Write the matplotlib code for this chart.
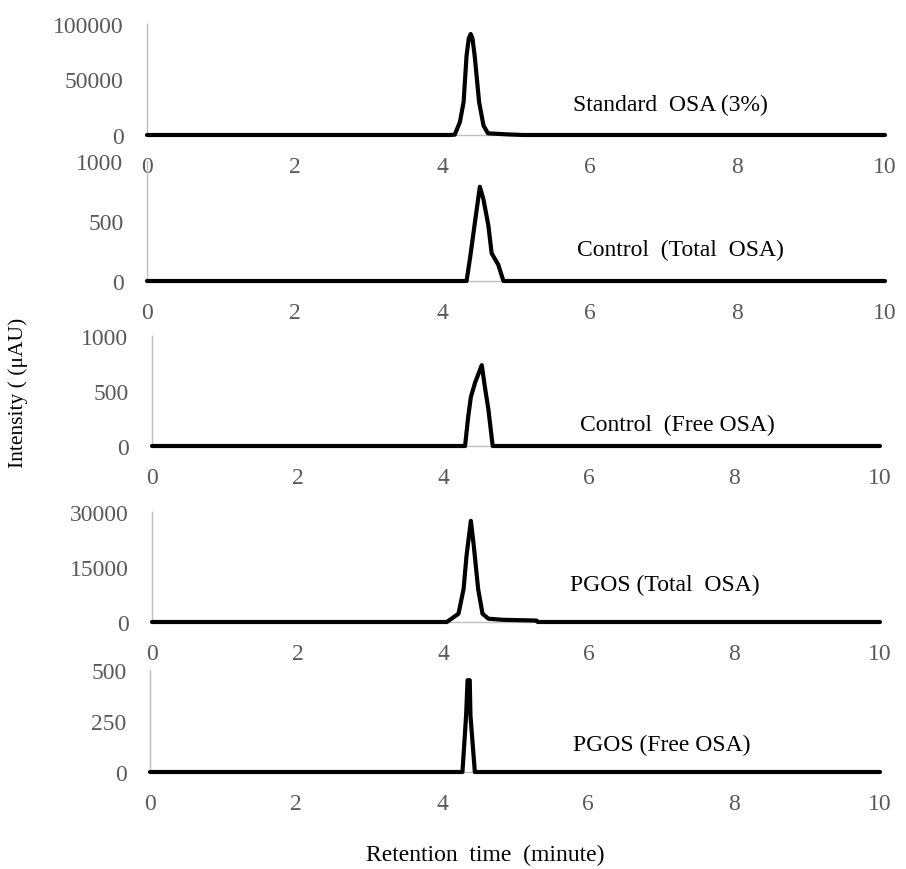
import matplotlib
matplotlib.use("Agg")
import matplotlib.pyplot as plt

plt.rcParams['font.family'] = ['Liberation Serif', 'DejaVu Serif']

# ---- data (retention time in minutes, intensity in µAU) ----
t_std = [0, 4.10, 4.17, 4.24, 4.29, 4.33, 4.36, 4.386, 4.41, 4.44, 4.50, 4.56, 4.62, 4.90, 5.10, 10]
i_std = [0, 0, 300, 11700, 29700, 71400, 87000, 91000, 87000, 71400, 29700, 8400, 1500, 500, 0, 0]

t_ctl_tot = [0, 4.33, 4.377, 4.445, 4.51, 4.557, 4.625, 4.67, 4.76, 4.83, 10]
i_ctl_tot = [0, 0, 190, 496, 785, 686, 465, 231, 135, 0, 0]

t_ctl_free = [0, 4.30, 4.345, 4.38, 4.44, 4.53, 4.57, 4.62, 4.68, 10]
i_ctl_free = [0, 0, 275, 445, 580, 735, 548, 336, 0, 0]

t_pg_tot = [0, 4.05, 4.21, 4.28, 4.32, 4.38, 4.42, 4.48, 4.54, 4.62, 4.82, 5.28, 5.30, 10]
i_pg_tot = [0, 0, 2260, 9000, 18000, 27600, 20800, 9000, 2260, 900, 600, 400, 0, 0]

t_pg_free = [0, 4.28, 4.33, 4.35, 4.38, 4.39, 4.45, 10]
i_pg_free = [0, 0, 276, 450, 450, 276, 0, 0]

labels = ["Standard  OSA (3%)", "Control  (Total  OSA)", "Control  (Free OSA)",
          "PGOS (Total  OSA)", "PGOS (Free OSA)"]
y_ticks = [[0, 50000, 100000], [0, 500, 1000], [0, 500, 1000],
           [0, 15000, 30000], [0, 250, 500]]
x_ticks = [0, 2, 4, 6, 8, 10]

series = [(t_std, i_std), (t_ctl_tot, i_ctl_tot), (t_ctl_free, i_ctl_free),
          (t_pg_tot, i_pg_tot), (t_pg_free, i_pg_free)]

# ---- layout (pixels) ----
W, H = 906, 870
boxes = [(147, 885, 25, 136), (147, 885, 162, 282), (152, 880, 337, 447),
         (152, 880, 513, 623), (150, 880, 671, 773)]
label_pos = [(670, 105), (680, 250), (677, 425), (665, 585), (662, 745)]

fig = plt.figure(figsize=(W / 100, H / 100), dpi=100)
gray = '#595959'
for k, ((l, r, tp, bt), (t, v)) in enumerate(zip(boxes, series)):
    ax = fig.add_axes([l / W, (H - bt) / H, (r - l) / W, (bt - tp) / H])
    ax.plot(t, v, color='black', lw=3.0, solid_joinstyle='round',
            solid_capstyle='round', zorder=3, clip_on=False)
    ax.set_xlim(0, 10)
    ax.set_ylim(0, y_ticks[k][-1])
    ax.set_xticks(x_ticks)
    ax.set_yticks(y_ticks[k])
    ax.set_yticklabels([str(y) for y in y_ticks[k]])
    ax.tick_params(length=0, labelsize=17, labelcolor=gray)
    ax.tick_params(axis='x', pad=15)
    ax.tick_params(axis='y', pad=17)
    for s in ['top', 'right']:
        ax.spines[s].set_visible(False)
    for s in ['left', 'bottom']:
        ax.spines[s].set_color('#bfbfbf')
        ax.spines[s].set_linewidth(1.0)
    ax.patch.set_alpha(0)
    fig.text(label_pos[k][0] / W, 1 - label_pos[k][1] / H, labels[k],
             ha='center', va='center', fontsize=17, color='black')

fig.text(18 / W, 1 - 393 / H, "Intensity ( (μAU)", rotation=90,
         ha='center', va='center', fontsize=15.5, color='black')
fig.text(485 / W, 1 - 855 / H, "Retention  time  (minute)",
         ha='center', va='center', fontsize=17, color='black')

fig.savefig("out.png", dpi=100, facecolor='white')
